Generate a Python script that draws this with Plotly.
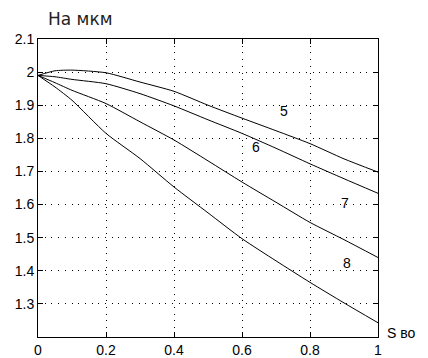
import plotly.graph_objects as go

s_vals = [0.0, 0.05, 0.1, 0.2, 0.3, 0.4, 0.5, 0.6, 0.7, 0.8, 0.9, 1.0]
curve5 = [1.99, 2.004, 2.006, 1.998, 1.970, 1.942, 1.900, 1.861, 1.823, 1.784, 1.738, 1.698]
curve6 = [1.99, 1.986, 1.978, 1.965, 1.935, 1.898, 1.856, 1.815, 1.770, 1.723, 1.678, 1.634]
curve7 = [1.99, 1.968, 1.945, 1.905, 1.850, 1.795, 1.732, 1.668, 1.607, 1.546, 1.494, 1.440]
curve8 = [1.99, 1.955, 1.915, 1.815, 1.739, 1.653, 1.575, 1.497, 1.430, 1.365, 1.303, 1.243]
curve_names = ["5", "6", "7", "8"]
label_x = [0.724, 0.641, 0.903, 0.909]
label_y = [1.884, 1.775, 1.604, 1.424]
x_ticks = [0, 0.2, 0.4, 0.6, 0.8, 1]
x_tick_text = ["0", "0.2", "0.4", "0.6", "0.8", "1"]
y_ticks = [1.3, 1.4, 1.5, 1.6, 1.7, 1.8, 1.9, 2.0, 2.1]
y_tick_text = ["1.3", "1.4", "1.5", "1.6", "1.7", "1.8", "1.9", "2", "2.1"]

FONT = "Liberation Sans"

fig = go.Figure()
for ys in [curve5, curve6, curve7, curve8]:
    fig.add_trace(go.Scatter(x=s_vals, y=ys, mode="lines",
                             line=dict(color="black", width=1, shape="spline", smoothing=0.6),
                             showlegend=False, hoverinfo="skip"))

for nm, lx, ly in zip(curve_names, label_x, label_y):
    fig.add_annotation(x=lx, y=ly, text=nm, showarrow=False,
                       font=dict(size=14, color="black", family=FONT))

fig.add_annotation(x=0.0, xref="paper", y=1.0, yref="paper", yanchor="middle", yshift=20,
                   xanchor="left", xshift=8, text="На мкм", showarrow=False,
                   font=dict(size=17, color="#222", family="DejaVu Sans"))
fig.add_annotation(x=1.0, xref="paper", y=0.0, yref="paper", xanchor="right", yanchor="middle",
                   xshift=40, yshift=4, text="S во", showarrow=False,
                   font=dict(size=14, color="black", family=FONT))

axis_common = dict(showline=True, linecolor="black", linewidth=1, mirror="ticks",
                   ticks="inside", ticklen=5, tickcolor="black",
                   showgrid=True, gridcolor="black", gridwidth=1, griddash="1px,5.7px",
                   zeroline=False, automargin=False,
                   tickfont=dict(size=14, color="black", family=FONT))

fig.update_xaxes(range=[0, 1], tickvals=x_ticks, ticktext=x_tick_text, **axis_common)
fig.update_yaxes(range=[1.2, 2.1], tickvals=y_ticks, ticktext=y_tick_text, **axis_common)

fig.update_layout(width=420, height=350, margin=dict(l=30, r=50, t=31, b=21),
                  paper_bgcolor="white", plot_bgcolor="white")
fig.write_html("out.html")
